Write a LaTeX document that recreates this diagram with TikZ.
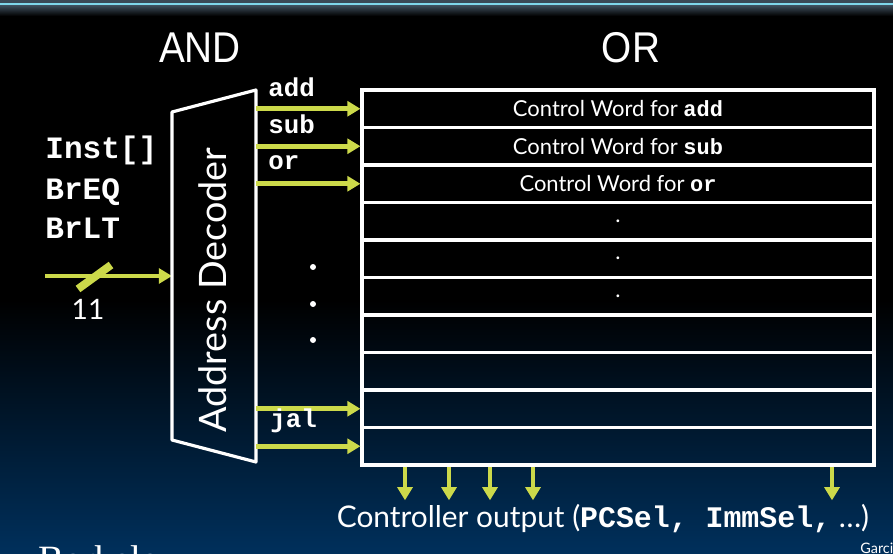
\documentclass[tikz,border=0pt]{standalone}
\usepackage{fontspec}
\setmainfont{Lato}
\setmonofont{Liberation Mono}
\newfontfamily\narrowsans[FakeStretch=0.9]{Liberation Sans}
\newfontfamily\serifface{Liberation Serif}
\usepackage{tikz}
\usetikzlibrary{arrows.meta,positioning,calc}
\definecolor{slideblue}{HTML}{00305C}
\definecolor{wirelime}{HTML}{CCD94A}
\definecolor{rulecyan}{HTML}{7ED6EA}
\definecolor{topgray}{HTML}{3A4956}

\begin{document}
\begin{tikzpicture}[x=0.02cm,y=-0.02cm,
			wire/.style={draw=wirelime,line width=2.7pt,-{Triangle[length=7.5pt,width=8.5pt]}},
			row/.style={draw=white,line width=1.8pt,minimum width=10.24cm,minimum height=0.75cm,
					inner sep=0pt,text=white,font=\fontsize{12.5}{14}\selectfont},
			sig/.style={text=white,inner sep=0pt,anchor=base west,font=\ttfamily\bfseries\fontsize{14.7}{16}\selectfont},
			inp/.style={text=white,inner sep=0pt,anchor=base west,font=\ttfamily\bfseries\fontsize{17.7}{20}\selectfont},
		]
		\def\cw#1{{\ttfamily\bfseries #1}}
		\useasboundingbox (0,0) rectangle (893,554);
		\clip (0,0) rectangle (893,554);
		% slide background
		\fill[black] (0,0) rectangle (893,554);
		\shade[top color=black,bottom color=slideblue] (0,300) rectangle (893,554);
		\fill[topgray] (0,0) rectangle (893,3);
		\fill[rulecyan] (0,3) rectangle (893,6);
		\shade[top color=topgray,bottom color=black] (0,6) rectangle (893,16);

		\node[text=white,font=\narrowsans\fontsize{24.5}{26}\selectfont] (andlbl) at (200,48) {AND};
		\node[text=white,font=\narrowsans\fontsize{24.5}{26}\selectfont] (orlbl) at (631,48) {OR};

		% inputs
		\node[inp] (inst) at (45,158) {Inst[]};
		\node[inp] (breq) at (45,199) {BrEQ};
		\node[inp] (brlt) at (45,238) {BrLT};
		\coordinate (inwire) at (45,276);
		\coordinate (decl) at (172,0);
		\draw[wire] (inwire) -- (decl |- inwire);
		\draw[wirelime,line width=4.5pt] (78,289) -- (111,265);
		\node[text=white,font=\fontsize{16}{18}\selectfont] (width) at (88,309) {11};

		% decoder
		\draw[white,line width=1.8pt,line join=round] (172,112) -- (256,90) -- (256,462) -- (172,440) -- cycle;
		\node[rotate=90,text=white,font=\fontsize{21.5}{24}\selectfont] (dec) at (213,290) {Address Decoder};
		\coordinate (decr) at (256,0);

		% control words
		\foreach \i/\txt in {1/{Control Word for \cw{add}},2/{Control Word for \cw{sub}},3/{Control Word for \cw{or}},
				4/.,5/.,6/.,7/{},8/{},9/{},10/{}}
			\node[row] (r\i) at (618,{71.25+37.5*\i}) {\txt};
		\foreach \i in {1,2,3,9,10}
			\draw[wire] (decr |- r\i.west) -- (r\i.west);
		\node[sig] (ladd) at (268,97) {add};
		\node[sig] (lsub) at (268,133) {sub};
		\node[sig] (lor) at (268,170) {or};
		\node[sig] (ljal) at (270,427) {jal};
		\foreach \y in {267,304,340}
			\fill[white] (313,\y) circle (1.7pt);

		% outputs
		\node[text=white,inner sep=0pt,outer sep=2pt,anchor=base,font=\fontsize{17}{19}\selectfont] (outlbl) at (603,527)
			{Controller output (\cw{PCSel, ImmSel,} …)};
		\foreach \x in {405,449,490,533,832}
			\draw[wire] (r10.south -| \x,0) -- (outlbl.north -| \x,0);

		\node[text=white,inner sep=0pt,anchor=base west,font=\serifface\fontsize{22}{24}\selectfont] (berk) at (38,572) {Berkeley};
		\node[text=white,inner sep=0pt,anchor=base west,font=\fontsize{8.2}{10}\selectfont] (garcia) at (860,553) {Garcia};
	\end{tikzpicture}
\end{document}
